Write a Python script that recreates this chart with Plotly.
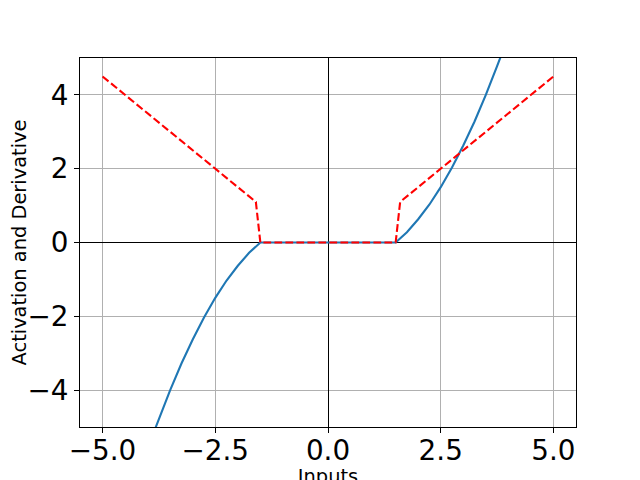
import plotly.graph_objects as go

# activation curve
act_x = [-3.85, -3.75, -3.5, -3.25, -3.0, -2.75, -2.5, -2.25, -2.0, -1.75, -1.5,
         -1.0, 0.0, 1.0, 1.5, 1.75, 2.0, 2.25, 2.5, 2.75, 3.0, 3.25, 3.5, 3.75, 3.85]
act_y = [-5.1, -4.78, -4.0, -3.28, -2.63, -2.03, -1.5, -1.03, -0.63, -0.28, 0.0,
         0.0, 0.0, 0.0, 0.0, 0.28, 0.63, 1.03, 1.5, 2.03, 2.63, 3.28, 4.0, 4.78, 5.1]

# derivative (dashed red)
der_x = [-5.0, -1.6, -1.5, 1.5, 1.6, 5.0]
der_y = [4.5, 1.1, 0.0, 0.0, 1.1, 4.5]

x_ticks = [-5.0, -2.5, 0.0, 2.5, 5.0]
y_ticks = [-4, -2, 0, 2, 4]

fig = go.Figure()
fig.add_trace(go.Scatter(x=act_x, y=act_y, mode='lines', line=dict(color='#1f77b4', width=2.1)))
fig.add_trace(go.Scatter(x=der_x, y=der_y, mode='lines', line=dict(color='#ff0000', width=2.1, dash='7.7px,3.3px')))

axis_style = dict(
    showgrid=True, gridcolor='#b0b0b0', gridwidth=1.1,
    zeroline=True, zerolinecolor='black', zerolinewidth=1,
    showline=True, linecolor='black', linewidth=1.1, mirror=True,
    ticks='outside', ticklen=5, tickcolor='black', tickwidth=1.1,
    tickfont=dict(family='DejaVu Sans', size=27.8, color='black'),
    automargin=False,
)

# the page body adds an 8px offset, so margins are shifted to compensate
fig.update_layout(
    width=640, height=480,
    margin=dict(l=72, r=72, t=50, b=61),
    paper_bgcolor='white', plot_bgcolor='white',
    showlegend=False,
    xaxis=dict(range=[-5.5, 5.5], tickvals=x_ticks, ticktext=['\u22125.0', '\u22122.5', '0.0', '2.5', '5.0'],
               ticklabelstandoff=-6,
               title=dict(text='Inputs', font=dict(family='DejaVu Sans', size=19.4, color='black'), standoff=4),
               **axis_style),
    yaxis=dict(range=[-5, 5], tickvals=y_ticks, ticktext=['\u22124', '\u22122', '0', '2', '4'],
               title=dict(text='Activation and Derivative', font=dict(family='DejaVu Sans', size=19.4, color='black'), standoff=0),
               **axis_style),
)

fig.write_html("out.html")
